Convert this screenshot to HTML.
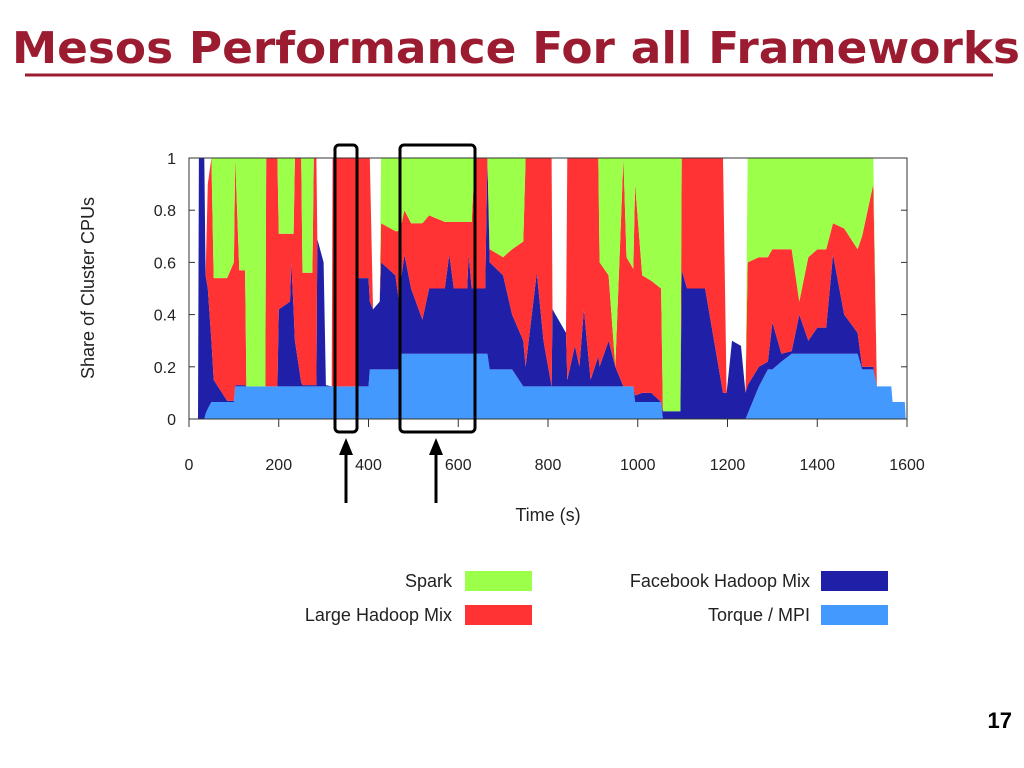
<!DOCTYPE html>
<html><head><meta charset="utf-8"><style>
body{margin:0;background:#fff;}
svg{display:block;font-family:"Liberation Sans",sans-serif;}
</style></head><body>
<svg width="1024" height="768" viewBox="0 0 1024 768">
<text x="12" y="63" font-size="44" font-weight="bold" fill="#9b1b30" font-family="DejaVu Sans, sans-serif" textLength="1008" lengthAdjust="spacingAndGlyphs">Mesos Performance For all Frameworks</text>
<line x1="25" y1="75" x2="993" y2="75" stroke="#9b1b30" stroke-width="3"/>
<g id="chart"></g>
<text x="1012" y="728" font-size="22" font-weight="bold" text-anchor="end" fill="#000">17</text>
</svg>
<script>
const times=[0,20,22,34,37,42,50,55,85,100,103,112,125,128,170,172,197,200,225,228,233,236,250,253,275,278,284,286,300,305,318,320,372,375,400,403,410,425,428,460,468,470,480,495,520,535,570,580,590,620,623,630,637,660,665,670,700,720,745,750,775,790,808,810,840,843,860,870,880,895,912,915,935,950,968,975,990,994,1010,1030,1052,1056,1095,1098,1110,1150,1190,1198,1210,1230,1240,1245,1270,1290,1300,1320,1343,1360,1380,1400,1420,1435,1460,1490,1500,1525,1533,1565,1568,1595,1597];
const torque=[0,0,0,0,.02,.04,.065,.065,.065,.065,.125,.125,.125,.125,.125,.125,.125,.125,.125,.125,.125,.125,.125,.125,.125,.125,.125,.125,.125,.125,.125,.125,.125,.125,.125,.19,.19,.19,.19,.19,.19,.25,.25,.25,.25,.25,.25,.25,.25,.25,.25,.25,.25,.25,.25,.19,.19,.19,.125,.125,.125,.125,.125,.125,.125,.125,.125,.125,.125,.125,.125,.125,.125,.125,.125,.125,.125,.065,.065,.065,.065,0,0,0,0,0,0,0,0,0,0,.02,.125,.19,.19,.22,.25,.25,.25,.25,.25,.25,.25,.25,.19,.19,.125,.125,.065,.065,0];
const facebook=[0,0,1,1,.53,.46,.235,.085,.005,.005,.005,.005,.005,0,0,0,0,.295,.325,.475,.295,.175,.015,.005,.005,.005,.005,.565,.475,.005,0,0,0,.415,.415,.26,.23,.26,.41,.36,.26,.25,.38,.25,.13,.25,.25,.38,.25,.25,.38,.25,.25,.25,.75,.41,.36,.21,.175,.075,.435,.175,0,.295,.205,.025,.155,.075,.295,.025,.115,.075,.175,.075,0,0,0,.025,.035,.035,0,.03,.03,.57,.5,.5,.1,.1,.3,.28,.1,.11,.075,.03,.18,.03,.01,.15,.05,.1,.1,.38,.15,.08,.01,.01,0,0,0,0,0];
const hadoop=[0,0,0,0,0,.4,.7,.39,.47,.53,.87,.44,.44,0,0,.875,.875,.29,.26,.11,.29,.7,.86,.43,.43,.87,.87,0,0,0,0,.875,.875,.46,.46,.55,0,0,.15,.17,.27,.22,.17,.25,.37,.28,.255,.125,.255,.255,.125,.255,.5,.5,0,.05,.07,.25,.38,.8,.44,.7,.875,0,0,.85,.72,.8,.58,.85,.76,.4,.25,0,.875,.495,.45,.81,.45,.43,.435,0,0,.43,.5,.5,.9,0,0,0,0,.47,.42,.4,.28,.4,.39,.05,.32,.3,.3,.12,.33,.32,.5,.7,0,0,0,0,0];
const spark=[0,0,0,0,0,0,0,.46,.46,.4,0,.43,.43,.875,.875,0,0,.29,.29,.29,.29,0,0,.44,.44,0,0,0,0,0,0,0,0,0,0,0,0,0,.25,.28,.28,.28,.2,.25,.25,.22,.245,.245,.245,.245,.245,.245,0,0,0,.35,.38,.35,.32,0,0,0,0,0,0,0,0,0,0,0,0,.4,.45,.8,0,.38,.45,.1,.45,.47,.5,.97,.97,0,0,0,0,0,0,0,0,.4,.38,.38,.35,.35,.35,.55,.38,.35,.35,.25,.27,.35,.3,.1,0,0,0,0,0];
const yTicks=[0,0.2,0.4,0.6,0.8,1];
const yTickLabels=["0","0.2","0.4","0.6","0.8","1"];
const xTicks=[0,200,400,600,800,1000,1200,1400,1600];
const xTickLabels=["0","200","400","600","800","1000","1200","1400","1600"];
const NS="http://www.w3.org/2000/svg";
const X0=189,X1=907,Y0=419,Y1=158;
const xs=t=>X0+t/1600*(X1-X0);
const ys=v=>Y0-v*(Y0-Y1);
const g=document.getElementById('chart');
function mk(tag,attrs){const e=document.createElementNS(NS,tag);for(const k in attrs)e.setAttribute(k,attrs[k]);g.appendChild(e);return e;}
const series=[[torque,'#4499ff','torque-mpi-area'],[facebook,'#1f1fa8','facebook-hadoop-area'],[hadoop,'#ff3333','large-hadoop-area'],[spark,'#9cff4a','spark-area']];
let base=times.map(()=>0);
series.forEach(([vals,col,name])=>{
  const top=base.map((b,i)=>b+vals[i]);
  let pts=times.map((t,i)=>xs(t).toFixed(1)+','+ys(Math.min(top[i],1)).toFixed(1));
  for(let i=times.length-1;i>=0;i--)pts.push(xs(times[i]).toFixed(1)+','+ys(Math.min(base[i],1)).toFixed(1));
  const p=mk('polygon',{points:pts.join(' '),fill:col});
  
  
  base=top;
});
const fr=mk('rect',{x:X0,y:Y1,width:X1-X0,height:Y0-Y1,fill:'none',stroke:'#333','stroke-width':1});


yTicks.forEach((v,i)=>{
  mk('line',{x1:X0,x2:X0+6,y1:ys(v),y2:ys(v),stroke:'#333'});
  mk('line',{x1:X1-6,x2:X1,y1:ys(v),y2:ys(v),stroke:'#333'});
  const t=mk('text',{x:176,y:ys(v)+6,'font-size':16,'text-anchor':'end',fill:'#222'});
  t.textContent=yTickLabels[i];
  
  
});
xTicks.forEach((v,i)=>{
  mk('line',{x1:xs(v),x2:xs(v),y1:Y0,y2:Y0+8,stroke:'#333'});
  const t=mk('text',{x:xs(v),y:470,'font-size':16,'text-anchor':'middle',fill:'#222'});
  t.textContent=xTickLabels[i];
  
  
});
const xt=mk('text',{x:548,y:521,'font-size':18,'text-anchor':'middle',fill:'#222'});
xt.textContent='Time (s)';


const yt=mk('text',{x:0,y:0,'font-size':18,'text-anchor':'middle',fill:'#222',transform:'translate(94,288) rotate(-90)'});
yt.textContent='Share of Cluster CPUs';


[[335,22],[400,75]].forEach(([x,w])=>{
  const r=mk('rect',{x:x,y:145,width:w,height:287,rx:4,fill:'none',stroke:'#000','stroke-width':3});
  
  
});
[346,436].forEach(x=>{
  const l=mk('line',{x1:x,x2:x,y1:503,y2:452,stroke:'#000','stroke-width':3});
  
  
  const h=mk('polygon',{points:`${x-7},455 ${x+7},455 ${x},438`,fill:'#000'});
  
  
});
const legend=[['Spark','#9cff4a',452,465,571],['Large Hadoop Mix','#ff3333',452,465,605],['Facebook Hadoop Mix','#1f1fa8',810,821,571],['Torque / MPI','#4499ff',810,821,605]];
legend.forEach(([lab,col,tx,sx,y])=>{
  const t=mk('text',{x:tx,y:y+16,'font-size':18,'text-anchor':'end',fill:'#222'});
  t.textContent=lab;
  
  
  const s=mk('rect',{x:sx,y:y,width:67,height:20,fill:col});
  
  
});
</script>
</body></html>
